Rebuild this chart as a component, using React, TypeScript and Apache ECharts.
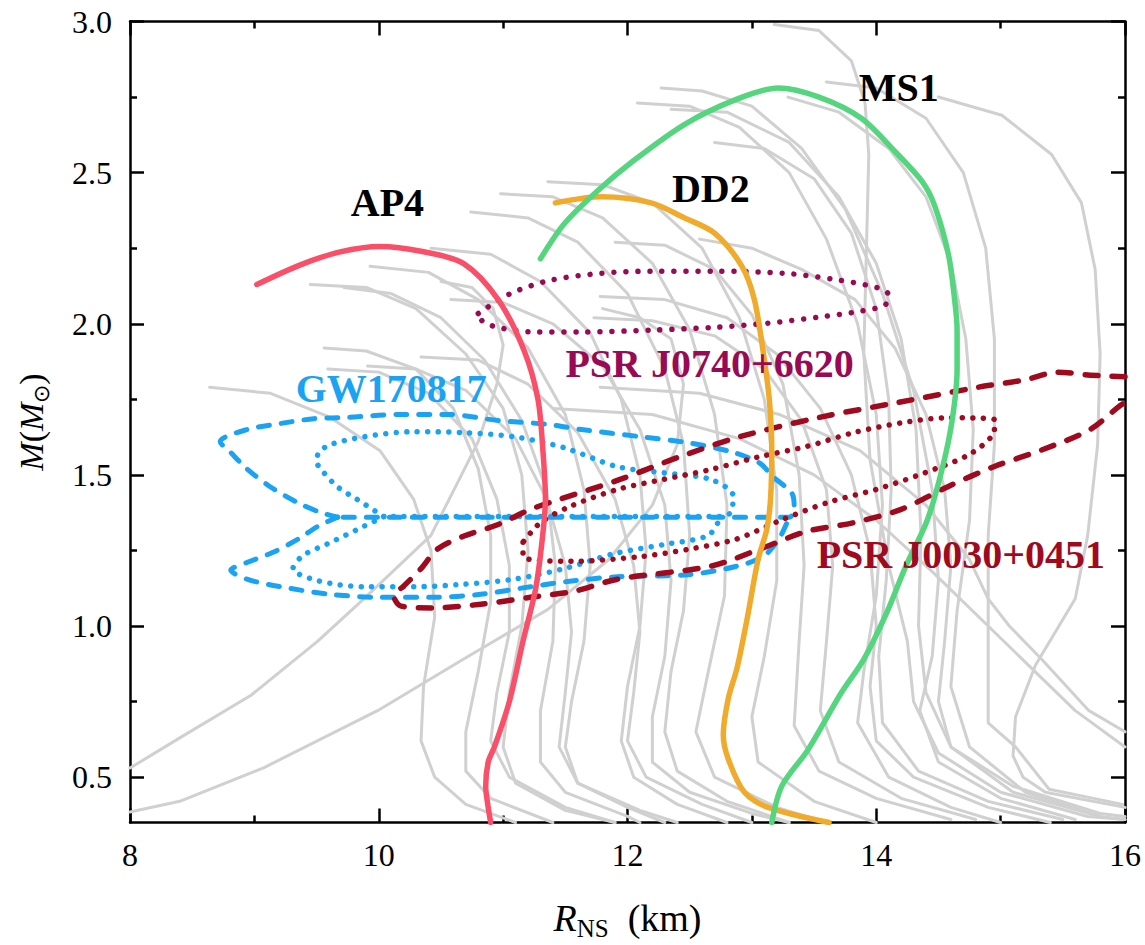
import React, { useEffect, useRef } from "react";
import * as echarts from "echarts";

const FONT = '"Liberation Serif", "Times New Roman", Times, serif';

// Axis ranges and tick values
const xRange = [8, 16];
const yRange = [0.35, 3.0];
const yMajorTicks = [0.5, 1.0, 1.5, 2.0, 2.5, 3.0];
const yMinorTicks = [0.75, 1.25, 1.75, 2.25, 2.75];

// Highlighted equations of state: [R (km), M (Msun)]
const ap4 = [
  [9.02, 2.13], [9.37, 2.195], [9.69, 2.238], [10.01, 2.256], [10.34, 2.24], [10.68, 2.2],
  [10.96, 2.08], [11.17, 1.91], [11.28, 1.75], [11.32, 1.58], [11.34, 1.42], [11.31, 1.27],
  [11.26, 1.12], [11.16, 0.95], [11.05, 0.75], [10.93, 0.6], [10.88, 0.55], [10.86, 0.47],
  [10.88, 0.4], [10.9, 0.35],
];
const dd2 = [
  [11.42, 2.4], [11.79, 2.42], [12.19, 2.4], [12.46, 2.35], [12.7, 2.3], [12.92, 2.19],
  [13.02, 2.08], [13.09, 1.91], [13.14, 1.75], [13.16, 1.58], [13.15, 1.42], [13.12, 1.32],
  [13.05, 1.22], [12.96, 1.02], [12.88, 0.86], [12.81, 0.76], [12.77, 0.64], [12.81, 0.56],
  [12.94, 0.45], [13.13, 0.4], [13.62, 0.35],
];
const ms1 = [
  [11.3, 2.215], [11.49, 2.33], [11.76, 2.44], [12.05, 2.54], [12.46, 2.66], [12.86, 2.74],
  [13.21, 2.78], [13.54, 2.75], [13.88, 2.68], [14.15, 2.57], [14.37, 2.47], [14.47, 2.39],
  [14.58, 2.23], [14.63, 2.08], [14.65, 1.98], [14.65, 1.85], [14.61, 1.68], [14.53, 1.52],
  [14.41, 1.35], [14.24, 1.2], [14.08, 1.04], [13.9, 0.89], [13.72, 0.78], [13.45, 0.59],
  [13.24, 0.47], [13.16, 0.35],
];

// GW170817 credible regions (outer dashed, inner dotted), two lobes joined at M = 1.36
const gwOuterUpper = [
  [9.67, 1.36], [9.53, 1.376], [9.34, 1.41], [9.13, 1.46], [8.94, 1.52], [8.81, 1.574],
  [8.725, 1.61], [8.94, 1.65], [9.21, 1.67], [9.48, 1.686], [9.75, 1.69], [10.15, 1.7],
  [10.55, 1.7], [10.96, 1.68], [11.36, 1.667], [11.63, 1.65], [12.11, 1.626], [12.49, 1.606],
  [12.83, 1.577], [13.06, 1.54], [13.17, 1.494], [13.32, 1.44], [13.34, 1.396], [13.3, 1.36],
  [9.67, 1.36],
];
const gwOuterLower = [
  [9.67, 1.36], [9.51, 1.33], [9.35, 1.287], [9.15, 1.244], [8.94, 1.21], [8.81, 1.185],
  [8.94, 1.155], [9.21, 1.13], [9.61, 1.105], [10.01, 1.095], [10.42, 1.095], [10.82, 1.105],
  [11.22, 1.13], [11.57, 1.15], [11.92, 1.163], [12.49, 1.17], [12.87, 1.197], [13.09, 1.23],
  [13.22, 1.29], [13.3, 1.36],
];
const gwInnerUpper = [
  [10.04, 1.362], [9.83, 1.418], [9.67, 1.46], [9.56, 1.507], [9.5, 1.545], [9.52, 1.575],
  [9.61, 1.6], [9.88, 1.626], [10.28, 1.643], [10.68, 1.64], [11.09, 1.626], [11.49, 1.59],
  [11.92, 1.527], [12.29, 1.507], [12.67, 1.485], [12.85, 1.43], [12.83, 1.376], [12.75, 1.362],
  [10.04, 1.362],
];
const gwInnerLower = [
  [10.04, 1.362], [9.88, 1.33], [9.61, 1.276], [9.39, 1.233], [9.31, 1.19], [9.51, 1.15],
  [9.88, 1.13], [10.28, 1.13], [10.68, 1.138], [11.09, 1.155], [11.49, 1.19], [11.9, 1.24],
  [12.3, 1.27], [12.65, 1.3], [12.75, 1.362],
];

// PSR J0740+6620 region (dotted)
const j0740 = [
  [10.8, 2.034], [11.06, 2.1], [11.38, 2.144], [11.79, 2.167], [12.19, 2.174], [12.73, 2.174],
  [13.26, 2.167], [13.66, 2.147], [14.02, 2.118], [14.1, 2.095], [14.07, 2.062], [13.88, 2.042],
  [13.54, 2.022], [13.13, 2.002], [12.73, 1.989], [12.19, 1.979], [11.65, 1.973], [11.25, 1.973],
  [10.98, 1.986], [10.84, 2.006], [10.8, 2.034],
];

// PSR J0030+0451 regions (outer dashed, inner dotted)
const j0030Outer = [
  [16.0, 1.825], [15.72, 1.83], [15.46, 1.84], [15.2, 1.815], [14.82, 1.79], [14.18, 1.74],
  [13.54, 1.69], [12.9, 1.626], [12.42, 1.56], [11.94, 1.485], [11.46, 1.42], [11.22, 1.386],
  [10.96, 1.336], [10.68, 1.297], [10.47, 1.254], [10.34, 1.19], [10.2, 1.132], [10.12, 1.1],
  [10.18, 1.066], [10.42, 1.06], [10.82, 1.072], [11.22, 1.095], [11.57, 1.115], [11.92, 1.155],
  [12.67, 1.198], [13.06, 1.254], [13.44, 1.313], [13.82, 1.342], [14.2, 1.386], [14.58, 1.462],
  [14.95, 1.528], [15.34, 1.584], [15.72, 1.65], [15.95, 1.726], [16.0, 1.74],
];
const j0030Inner = [
  [11.16, 1.277], [11.16, 1.23], [11.54, 1.214], [12.11, 1.23], [12.49, 1.254], [12.87, 1.287],
  [13.25, 1.353], [13.62, 1.41], [14.0, 1.452], [14.39, 1.507], [14.77, 1.573], [14.95, 1.65],
  [14.95, 1.683], [14.58, 1.689], [14.2, 1.672], [13.82, 1.64], [13.44, 1.594], [13.06, 1.56],
  [12.67, 1.518], [12.29, 1.485], [11.92, 1.452], [11.54, 1.396], [11.3, 1.342], [11.16, 1.277],
];

// Background family of mass-radius relations
const eosFamily = [
  [[8.64, 1.79], [9.13, 1.77], [9.61, 1.69], [10.01, 1.58], [10.28, 1.42], [10.42, 1.25], [10.45, 1.03], [10.36, 0.8], [10.34, 0.62], [10.45, 0.5], [10.7, 0.41], [11.1, 0.35]],
  [[10.5, 2.14], [10.75, 2.12], [10.92, 2.05], [11.0, 1.93], [10.95, 1.8], [10.8, 1.61], [10.42, 1.3], [9.88, 1.09], [9.51, 0.95], [8.97, 0.77], [8.4, 0.63], [8.0, 0.53]],
  [[11.8, 2.05], [12.1, 2.02], [12.35, 1.95], [12.45, 1.8], [12.4, 1.6], [12.2, 1.4], [11.85, 1.22], [11.36, 1.055], [10.68, 0.89], [9.99, 0.72], [9.07, 0.53], [8.4, 0.42], [8.0, 0.385]],
  [[9.45, 2.13], [9.9, 2.12], [10.3, 2.05], [10.7, 1.9], [11.0, 1.72], [11.15, 1.5], [11.2, 1.25], [11.15, 1.0], [11.05, 0.78], [11.0, 0.6], [11.1, 0.48], [11.5, 0.39], [11.9, 0.35]],
  [[9.72, 2.12], [10.1, 2.1], [10.5, 2.02], [10.85, 1.88], [11.15, 1.68], [11.35, 1.45], [11.42, 1.2], [11.4, 0.95], [11.3, 0.72], [11.3, 0.55], [11.5, 0.45], [12.0, 0.37], [12.1, 0.35]],
  [[9.93, 2.19], [10.4, 2.17], [10.8, 2.08], [11.2, 1.92], [11.5, 1.7], [11.65, 1.45], [11.7, 1.2], [11.65, 0.95], [11.55, 0.75], [11.5, 0.6], [11.6, 0.48], [12.0, 0.4], [12.3, 0.35]],
  [[10.42, 2.25], [10.9, 2.23], [11.3, 2.14], [11.7, 1.97], [11.95, 1.75], [12.1, 1.5], [12.15, 1.25], [12.1, 1.0], [12.0, 0.8], [11.95, 0.62], [12.05, 0.5], [12.4, 0.41], [12.8, 0.35]],
  [[10.74, 2.37], [11.2, 2.35], [11.6, 2.27], [12.0, 2.1], [12.3, 1.85], [12.45, 1.6], [12.5, 1.3], [12.45, 1.05], [12.35, 0.85], [12.3, 0.65], [12.4, 0.52], [12.8, 0.42], [13.3, 0.35]],
  [[10.98, 2.43], [11.4, 2.42], [11.8, 2.35], [12.2, 2.2], [12.5, 1.98], [12.7, 1.7], [12.8, 1.4], [12.78, 1.1], [12.65, 0.85], [12.55, 0.65], [12.7, 0.5], [13.2, 0.4], [13.6, 0.35]],
  [[11.36, 2.47], [11.8, 2.46], [12.2, 2.4], [12.6, 2.25], [12.9, 2.02], [13.1, 1.75], [13.2, 1.45], [13.2, 1.15], [13.1, 0.9], [13.0, 0.7], [13.05, 0.55], [13.5, 0.42], [14.0, 0.35]],
  [[12.08, 2.73], [12.5, 2.72], [12.9, 2.65], [13.3, 2.5], [13.6, 2.28], [13.85, 2.0], [14.0, 1.7], [14.05, 1.4], [14.0, 1.1], [13.9, 0.85], [13.85, 0.68], [14.1, 0.5], [14.6, 0.4], [15.0, 0.35]],
  [[12.27, 2.78], [12.6, 2.77], [13.0, 2.72], [13.4, 2.58], [13.75, 2.38], [14.05, 2.1], [14.3, 1.78], [14.45, 1.45], [14.5, 1.15], [14.45, 0.9], [14.35, 0.72], [14.5, 0.55], [15.0, 0.43], [15.6, 0.36]],
  [[13.29, 2.75], [13.7, 2.7], [14.1, 2.58], [14.4, 2.42], [14.6, 2.2], [14.72, 1.95], [14.78, 1.65], [14.75, 1.35], [14.65, 1.05], [14.6, 0.8], [14.75, 0.6], [15.2, 0.45], [15.8, 0.37], [16.0, 0.36]],
  [[13.18, 2.99], [13.54, 2.97], [13.8, 2.87], [13.91, 2.73], [13.94, 2.56], [13.92, 2.23], [13.9, 1.9], [13.95, 1.55], [14.1, 1.2], [14.25, 0.95], [14.3, 0.75], [14.5, 0.58], [15.0, 0.45], [15.7, 0.37], [16.0, 0.36]],
  [[14.5, 2.75], [15.01, 2.69], [15.41, 2.56], [15.65, 2.4], [15.76, 2.18], [15.8, 1.9], [15.78, 1.6], [15.7, 1.3], [15.6, 1.09], [15.28, 0.87], [15.12, 0.7], [15.1, 0.57], [15.18, 0.5], [15.36, 0.45], [16.0, 0.4]],
  [[12.58, 2.28], [13.0, 2.25], [13.4, 2.18], [13.83, 2.08], [14.15, 1.92], [14.4, 1.7], [14.55, 1.45], [14.6, 1.2], [14.55, 0.95], [14.5, 0.75], [14.6, 0.6], [15.1, 0.47], [15.8, 0.38], [16.0, 0.37]],
  [[11.78, 1.79], [12.58, 1.77], [13.22, 1.7], [13.87, 1.58], [14.4, 1.4], [14.75, 1.22], [14.9, 1.09], [15.07, 1.0], [15.33, 0.89], [15.71, 0.72], [16.0, 0.65]],
  [[11.4, 1.72], [12.2, 1.7], [12.9, 1.62], [13.5, 1.5], [14.0, 1.35], [14.45, 1.18], [14.85, 1.02], [15.2, 0.88], [15.6, 0.72], [16.0, 0.6]],
  [[9.59, 1.85], [10.0, 1.84], [10.4, 1.77], [10.75, 1.62], [10.95, 1.42], [11.05, 1.2], [11.05, 0.98], [10.95, 0.78], [10.9, 0.62], [11.05, 0.5], [11.5, 0.4], [11.9, 0.35]],
  [[9.91, 1.86], [10.3, 1.85], [10.7, 1.78], [11.1, 1.62], [11.35, 1.42], [11.5, 1.2], [11.55, 0.98], [11.5, 0.78], [11.45, 0.6], [11.6, 0.48], [12.1, 0.39], [12.4, 0.35]],
  [[10.34, 1.89], [10.8, 1.88], [11.2, 1.8], [11.6, 1.64], [11.9, 1.42], [12.05, 1.2], [12.1, 0.98], [12.05, 0.78], [12.0, 0.62], [12.15, 0.5], [12.6, 0.41], [13.0, 0.35]],
  [[9.56, 1.92], [9.9, 1.91], [10.3, 1.85], [10.6, 1.72], [10.8, 1.52], [10.9, 1.3], [10.9, 1.08], [10.8, 0.85], [10.7, 0.65], [10.7, 0.52], [10.9, 0.43], [11.4, 0.35]],
  [[11.9, 2.27], [12.3, 2.26], [12.7, 2.18], [13.0, 2.03], [13.25, 1.8], [13.38, 1.5], [13.42, 1.2], [13.38, 0.95], [13.34, 0.67], [13.54, 0.52], [14.0, 0.43], [14.6, 0.36]],
  [[12.7, 2.6], [13.1, 2.58], [13.5, 2.48], [13.8, 2.3], [14.0, 2.05], [14.1, 1.75], [14.12, 1.45], [14.08, 1.15], [14.02, 0.9], [14.05, 0.68], [14.34, 0.52], [14.9, 0.42], [15.5, 0.36]],
  [[12.35, 2.71], [12.8, 2.7], [13.3, 2.6], [13.7, 2.42], [14.0, 2.2], [14.2, 1.95], [14.32, 1.65], [14.36, 1.3], [14.34, 1.0], [14.4, 0.78], [14.6, 0.6], [15.1, 0.45], [15.8, 0.37]],
  [[13.6, 2.8], [14.0, 2.78], [14.4, 2.68], [14.7, 2.5], [14.88, 2.25], [14.95, 1.95], [14.95, 1.6], [14.9, 1.3], [14.9, 1.0], [14.9, 0.68], [15.12, 0.6], [15.39, 0.46], [15.98, 0.41]],
  [[11.78, 2.09], [12.3, 2.08], [12.8, 2.02], [13.2, 1.9], [13.55, 1.72], [13.8, 1.5], [13.95, 1.25], [14.0, 1.0], [13.95, 0.8], [14.0, 0.62], [14.3, 0.5], [14.9, 0.4], [15.4, 0.35]],
  [[11.73, 2.02], [12.2, 2.01], [12.7, 1.96], [13.1, 1.85], [13.4, 1.68], [13.6, 1.45], [13.65, 1.2], [13.6, 0.95], [13.55, 0.72], [13.7, 0.55], [14.2, 0.43], [14.8, 0.36]],
  [[10.58, 2.08], [11.0, 2.07], [11.4, 2.0], [11.8, 1.86], [12.1, 1.65], [12.3, 1.4], [12.35, 1.15], [12.3, 0.9], [12.2, 0.7], [12.2, 0.55], [12.5, 0.45], [13.0, 0.38], [13.3, 0.35]],
];

// Text annotations
const labelNames = ["AP4", "DD2", "MS1", "GW170817", "PSR J0740+6620", "PSR J0030+0451"];
const labelPos = [[10.07, 2.4], [12.67, 2.447], [14.18, 2.78], [10.1, 1.785], [12.66, 1.867], [14.68, 1.237]];
const labelColors = ["#000000", "#000000", "#000000", "#1AA3F2", "#990A55", "#A00A1E"];

const COLORS = {
  ap4: "#FA4F69",
  dd2: "#F0AA2C",
  ms1: "#55D57E",
  gw: "#1AA3F2",
  j0740: "#990A55",
  j0030: "#A00A1E",
  gray: "#D0D0D0",
};

const DOTS = [0.01, 10.5];
const DASH_BLUE = [11, 12];
const DASH_RED = [13, 14];

function lineSeries(data: number[][], color: string, width: number, type: any, z: number, smooth: number) {
  return {
    type: "line",
    data,
    showSymbol: false,
    symbol: "none",
    smooth,
    silent: true,
    z,
    clip: true,
    lineStyle: { color, width, type, cap: "round", join: "round", opacity: 1 },
  };
}

export default function App() {
  const ref = useRef<HTMLDivElement>(null);

  useEffect(() => {
    if (!ref.current) return;
    const chart = echarts.init(ref.current, null, { renderer: "svg" });

    const axisLine = { show: true, lineStyle: { color: "#000", width: 2.5 } };
    const tickStyle = { color: "#000", width: 2.5 };

    const yNameRich = {
      i: { fontFamily: FONT, fontSize: 34, fontStyle: "italic", color: "#000", lineHeight: 42 },
      r: { fontFamily: FONT, fontSize: 34, color: "#000", lineHeight: 42 },
      s: { fontFamily: FONT, fontSize: 22, color: "#000", lineHeight: 22, verticalAlign: "bottom" },
    };
    const xNameRich = {
      i: { fontFamily: FONT, fontSize: 38, fontStyle: "italic", color: "#000", lineHeight: 46 },
      r: { fontFamily: FONT, fontSize: 38, color: "#000", lineHeight: 46 },
      s: { fontFamily: FONT, fontSize: 25, color: "#000", lineHeight: 25, verticalAlign: "bottom" },
    };

    const xCommon = {
      type: "value",
      min: xRange[0],
      max: xRange[1],
      interval: 2,
      splitLine: { show: false },
      minorSplitLine: { show: false },
      axisLine,
      axisTick: { show: true, inside: true, length: 14, lineStyle: tickStyle },
      minorTick: { show: true, splitNumber: 2, length: 7, lineStyle: tickStyle },
    };

    const yCommon = {
      type: "value",
      min: yRange[0],
      max: yRange[1],
      splitLine: { show: false },
      minorSplitLine: { show: false },
    };

    const series: any[] = [];
    eosFamily.forEach((c) => series.push(lineSeries(c, COLORS.gray, 3, "solid", 1, 0)));

    series.push(lineSeries(gwOuterUpper, COLORS.gw, 5, DASH_BLUE, 3, 0.3));
    series.push(lineSeries(gwOuterLower, COLORS.gw, 5, DASH_BLUE, 3, 0.3));
    series.push(lineSeries(gwInnerUpper, COLORS.gw, 5.5, DOTS, 3, 0.3));
    series.push(lineSeries(gwInnerLower, COLORS.gw, 5.5, DOTS, 3, 0.3));
    series.push(lineSeries(j0740, COLORS.j0740, 5.5, [0.01, 12], 3, 0.3));
    series.push(lineSeries(j0030Outer, COLORS.j0030, 5.5, DASH_RED, 3, 0.3));
    series.push(lineSeries(j0030Inner, COLORS.j0030, 5.5, DOTS, 3, 0.3));

    series.push(lineSeries(ap4, COLORS.ap4, 5.5, "solid", 5, 0.3));
    series.push(lineSeries(dd2, COLORS.dd2, 5.5, "solid", 5, 0.3));
    series.push(lineSeries(ms1, COLORS.ms1, 5.5, "solid", 5, 0.3));

    series.push({
      type: "scatter",
      silent: true,
      z: 10,
      symbolSize: 0,
      itemStyle: { opacity: 1 },
      data: labelNames.map((n, i) => ({
        name: n,
        value: labelPos[i],
        label: { color: labelColors[i] },
      })),
      label: {
        show: true,
        position: "inside",
        formatter: "{b}",
        fontFamily: FONT,
        fontSize: 40,
        fontWeight: "bold",
        opacity: 1,
      },
    });

    chart.setOption({
      animation: false,
      backgroundColor: "#ffffff",
      grid: {
        left: 130,
        right: 20,
        top: 21.5,
        bottom: 122.5,
        containLabel: false,
        outerBoundsMode: "none",
      },
      xAxis: [
        {
          ...xCommon,
          position: "bottom",
          axisLabel: { show: true, fontFamily: FONT, fontSize: 32, color: "#000", margin: 16 },
          name: "{i|R}{s|NS}{r|  (km)}",
          nameLocation: "middle",
          nameGap: 72,
          nameTextStyle: { rich: xNameRich },
        },
        {
          ...xCommon,
          position: "top",
          axisLabel: { show: false },
        },
      ],
      yAxis: [
        {
          ...yCommon,
          position: "left",
          axisLine,
          axisTick: { show: true, inside: true, length: 14, lineStyle: tickStyle, customValues: yMajorTicks },
          axisLabel: {
            show: true,
            fontFamily: FONT,
            fontSize: 32,
            color: "#000",
            margin: 18,
            customValues: yMajorTicks,
            formatter: (v: number) => v.toFixed(1),
          },
          name: "{i|M}{r|(}{i|M}{s|⊙}{r|)}",
          nameLocation: "middle",
          nameRotate: 90,
          nameGap: 78,
          nameTextStyle: { rich: yNameRich },
        },
        {
          ...yCommon,
          position: "left",
          axisLine: { show: false },
          axisTick: { show: true, inside: true, length: 7, lineStyle: tickStyle, customValues: yMinorTicks },
          axisLabel: { show: false },
        },
        {
          ...yCommon,
          position: "right",
          axisLine,
          axisTick: { show: true, inside: true, length: 14, lineStyle: tickStyle, customValues: yMajorTicks },
          axisLabel: { show: false },
        },
        {
          ...yCommon,
          position: "right",
          axisLine: { show: false },
          axisTick: { show: true, inside: true, length: 7, lineStyle: tickStyle, customValues: yMinorTicks },
          axisLabel: { show: false },
        },
      ],
      series,
    });

    return () => chart.dispose();
  }, []);

  return <div ref={ref} style={{ width: 1145, height: 945, position: "absolute", left: 0, top: 0 }} />;
}
